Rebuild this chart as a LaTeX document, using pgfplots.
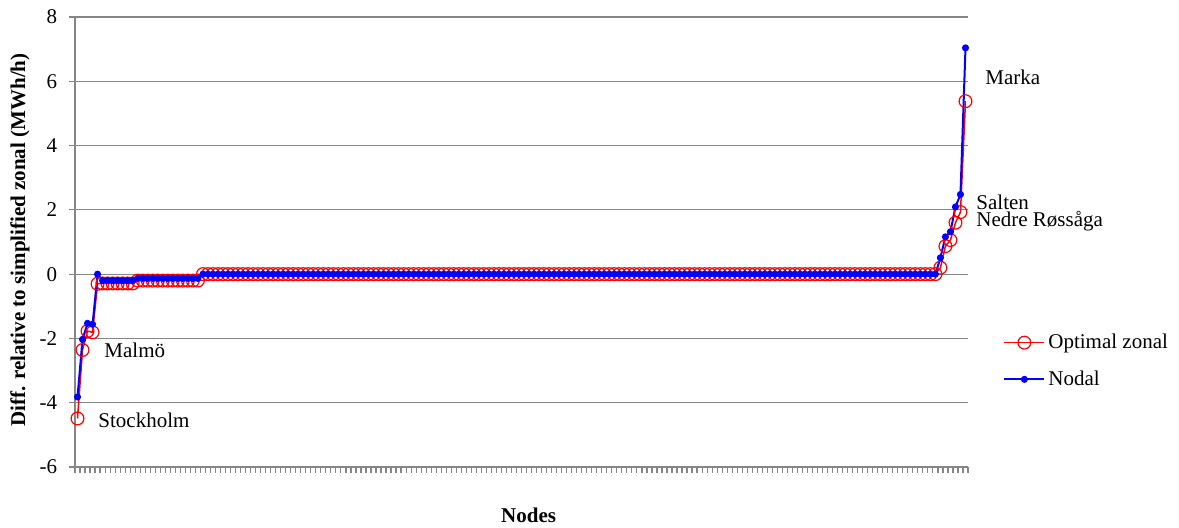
\documentclass[border=0pt]{standalone}
\usepackage{fontspec}
\setmainfont{Liberation Serif}
\usepackage{pgfplots}
\usepackage{pgfplotstable}
\pgfplotsset{compat=1.18}
\definecolor{axgray}{RGB}{134,134,134}

% Difference per node, sorted; one row per node (178 nodes)
\pgfplotstableread[row sep=\\]{
zonal nodal\\
-4.49 -3.82\\ -2.36 -2.03\\ -1.77 -1.53\\ -1.81 -1.56\\ -0.30 0.00\\
-0.29 -0.20\\ -0.29 -0.20\\ -0.29 -0.20\\ -0.29 -0.20\\ -0.29 -0.20\\ -0.29 -0.20\\ -0.29 -0.20\\
-0.20 -0.13\\ -0.20 -0.13\\ -0.20 -0.13\\ -0.20 -0.13\\ -0.20 -0.13\\ -0.20 -0.13\\ -0.20 -0.13\\
-0.20 -0.13\\ -0.20 -0.13\\ -0.20 -0.13\\ -0.20 -0.13\\ -0.20 -0.13\\ -0.20 -0.13\\
0 0\\ 0 0\\ 0 0\\ 0 0\\ 0 0\\ 0 0\\ 0 0\\ 0 0\\ 0 0\\ 0 0\\
0 0\\ 0 0\\ 0 0\\ 0 0\\ 0 0\\ 0 0\\ 0 0\\ 0 0\\ 0 0\\ 0 0\\
0 0\\ 0 0\\ 0 0\\ 0 0\\ 0 0\\ 0 0\\ 0 0\\ 0 0\\ 0 0\\ 0 0\\
0 0\\ 0 0\\ 0 0\\ 0 0\\ 0 0\\ 0 0\\ 0 0\\ 0 0\\ 0 0\\ 0 0\\
0 0\\ 0 0\\ 0 0\\ 0 0\\ 0 0\\ 0 0\\ 0 0\\ 0 0\\ 0 0\\ 0 0\\
0 0\\ 0 0\\ 0 0\\ 0 0\\ 0 0\\ 0 0\\ 0 0\\ 0 0\\ 0 0\\ 0 0\\
0 0\\ 0 0\\ 0 0\\ 0 0\\ 0 0\\ 0 0\\ 0 0\\ 0 0\\ 0 0\\ 0 0\\
0 0\\ 0 0\\ 0 0\\ 0 0\\ 0 0\\ 0 0\\ 0 0\\ 0 0\\ 0 0\\ 0 0\\
0 0\\ 0 0\\ 0 0\\ 0 0\\ 0 0\\ 0 0\\ 0 0\\ 0 0\\ 0 0\\ 0 0\\
0 0\\ 0 0\\ 0 0\\ 0 0\\ 0 0\\ 0 0\\ 0 0\\ 0 0\\ 0 0\\ 0 0\\
0 0\\ 0 0\\ 0 0\\ 0 0\\ 0 0\\ 0 0\\ 0 0\\ 0 0\\ 0 0\\ 0 0\\
0 0\\ 0 0\\ 0 0\\ 0 0\\ 0 0\\ 0 0\\ 0 0\\ 0 0\\ 0 0\\ 0 0\\
0 0\\ 0 0\\ 0 0\\ 0 0\\ 0 0\\ 0 0\\ 0 0\\ 0 0\\ 0 0\\ 0 0\\
0 0\\ 0 0\\ 0 0\\ 0 0\\ 0 0\\ 0 0\\ 0 0\\ 0 0\\ 0 0\\ 0 0\\
0 0\\ 0 0\\ 0 0\\ 0 0\\ 0 0\\ 0 0\\
0 0\\ 0.20 0.51\\ 0.87 1.16\\ 1.06 1.32\\ 1.60 2.09\\ 1.93 2.48\\ 5.38 7.04\\
}\nodediff

\begin{document}
\fontsize{10.5bp}{12.6bp}\selectfont
\begin{tikzpicture}
\useasboundingbox (0,0) rectangle (589.5bp,264bp);
\begin{axis}[
  at={(37.5bp,30.5bp)}, anchor=south west,
  scale only axis, width=446.5bp, height=225bp,
  xmin=-0.5, xmax=177.5, ymin=-6, ymax=8,
  ytick={-6,-4,...,8},
  xtick={-0.5,0.5,...,177.5}, xticklabels={},
  axis lines*=left,
  axis line style={axgray, line width=0.8bp},
  tick style={axgray, line width=0.6bp},
  tick align=outside, major tick length=2.8bp,
  ymajorgrids, grid style={axgray, line width=0.6bp},
  /pgf/number format/assume math mode=true,
  yticklabel style={inner sep=0pt, anchor=east, xshift=-6bp},
  ylabel={\bfseries Diff. relative to simplified zonal (MWh/h)},
  ylabel style={at={(axis description cs:-0.0616,0.504)}, anchor=center},
  xlabel={\bfseries Nodes},
  xlabel style={at={(axis description cs:0.508,0)}, anchor=center, yshift=-24bp},
  clip=false,
  legend cell align=left,
  legend style={at={(axis description cs:1,0)}, anchor=west, xshift=17.5bp, yshift=53bp,
    draw=none, fill=none, inner sep=0pt, row sep=6.5bp,
    nodes={inner sep=1.5bp}},
  legend image code/.code={\draw[mark repeat=2, mark phase=2]
    plot coordinates {(0bp,0bp) (10bp,0bp) (20bp,0bp)};},
]
\addplot[red, line width=0.75bp, mark=o, mark size=3.2bp,
  mark options={line width=0.6bp, fill=none}]
  table[x expr=\coordindex, y=zonal]{\nodediff};
\addlegendentry{Optimal zonal}
\addplot[blue, line width=1bp, mark=*, mark size=1.25bp]
  table[x expr=\coordindex, y=nodal]{\nodediff};
\addlegendentry{Nodal}

\node[anchor=west, inner sep=0pt] at (axis cs:4.1,-4.54) {Stockholm};
\node[anchor=west, inner sep=0pt] at (axis cs:5.3,-2.36) {Malmö};
\node[anchor=west, inner sep=0pt] at (axis cs:180.9,6.13) {Marka};
\node[anchor=west, inner sep=0pt] at (axis cs:179.1,2.25) {Salten};
\node[anchor=west, inner sep=0pt] at (axis cs:179.1,1.66) {Nedre Røssåga};
\end{axis}
\end{tikzpicture}
\end{document}
